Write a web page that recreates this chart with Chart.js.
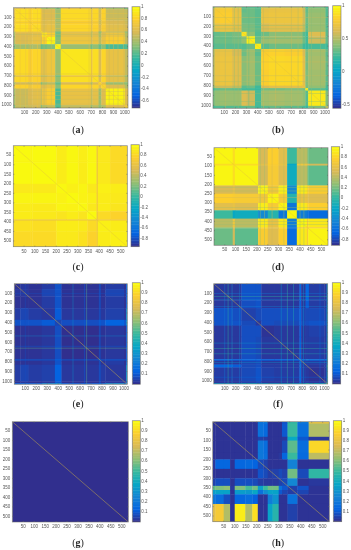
<!DOCTYPE html>
<html>
<head>
<meta charset="utf-8">
<title>Similarity matrices</title>
<script src="https://cdn.jsdelivr.net/npm/chart.js@4"></script>
<style>
  html, body { margin: 0; padding: 0; background: #fff; overflow: hidden; }
  body { position: relative; width: 351px; height: 550px; }
  canvas { position: absolute; }
  .cap { position: absolute; width: 40px; margin-left: -20px; text-align: center; color: #222;
         font: 10px "Liberation Serif", serif; line-height: 12px; }
</style>
</head>
<body>
<script>
// tick labels
const ticks1000 = [100, 200, 300, 400, 500, 600, 700, 800, 900, 1000];
const ticks500 = [50, 100, 150, 200, 250, 300, 350, 400, 450, 500];
const barTicksA = [1, 0.8, 0.6, 0.4, 0.2, 0, -0.2, -0.4, -0.6];
const barTicksB = [1, 0.5, 0, -0.5];
const barTicksC = [1, 0.8, 0.6, 0.4, 0.2, 0, -0.2, -0.4, -0.6, -0.8];
const barTicksE = [1, 0.9, 0.8, 0.7, 0.6, 0.5, 0.4, 0.3, 0.2, 0.1];

// band edges along each matrix axis, values are hundredths, stripes are [index, value]
const edgesA = [0, 15, 130, 170, 245, 255, 300, 375, 425, 695, 710, 765, 790, 830, 1000, 1030];
const valuesA = [
  [50, 58, 58, 60, 45, 40, 42, 30, 62, 45, 60, 40, 58, 40, 30],
  [58, 86, 82, 85, 68, 58, 58, 40, 84, 62, 83, 55, 80, 52, 50],
  [58, 82, 78, 80, 65, 60, 62, 42, 78, 60, 76, 52, 72, 58, 52],
  [60, 85, 80, 84, 66, 62, 66, 44, 82, 62, 80, 56, 76, 62, 55],
  [45, 68, 65, 66, 95, 60, 55, 25, 60, 45, 58, 30, 55, 50, 32],
  [40, 58, 60, 62, 60, 88, 78, 28, 64, 48, 62, 42, 60, 68, 45],
  [42, 58, 62, 66, 55, 78, 96, 32, 70, 55, 68, 48, 66, 76, 50],
  [30, 40, 42, 44, 25, 28, 32, 96, 38, 28, 36, 25, 34, 18, 20],
  [62, 84, 78, 82, 60, 64, 70, 38, 90, 66, 86, 58, 82, 66, 50],
  [45, 62, 60, 62, 45, 48, 55, 28, 66, 60, 62, 42, 60, 50, 38],
  [60, 83, 76, 80, 58, 62, 68, 36, 86, 62, 86, 58, 82, 64, 48],
  [40, 55, 52, 56, 30, 42, 48, 25, 58, 42, 58, 80, 62, 38, 35],
  [58, 80, 72, 76, 55, 60, 66, 34, 82, 60, 82, 62, 82, 60, 45],
  [40, 52, 58, 62, 50, 68, 76, 18, 66, 50, 64, 38, 60, 95, 60],
  [30, 50, 52, 55, 32, 45, 50, 20, 50, 38, 48, 35, 45, 60, 70]
];
const stripesA = [[60, 70], [110, 68], [150, 60], [215, 70], [275, 48], [340, 52], [680, 60], [860, 52], [900, 56], [940, 50], [990, 56]];

const edgesB = [0, 15, 60, 170, 255, 300, 375, 430, 500, 640, 800, 825, 850, 1005, 1030];
const valuesB = [
  [30, 55, 55, 50, 30, 30, 28, 50, 52, 52, 42, 25, 36, 25],
  [55, 76, 78, 68, 32, 34, 30, 68, 70, 70, 56, 32, 42, 28],
  [55, 78, 80, 70, 34, 34, 30, 70, 72, 72, 58, 34, 44, 28],
  [50, 68, 70, 66, 36, 36, 30, 62, 66, 66, 54, 32, 44, 28],
  [30, 32, 34, 36, 90, 42, 28, 34, 40, 40, 30, 25, 64, 30],
  [30, 34, 34, 36, 42, 94, 34, 44, 46, 46, 34, 25, 58, 32],
  [28, 30, 30, 30, 28, 34, 94, 30, 34, 34, 24, 22, 26, 24],
  [50, 68, 70, 62, 34, 44, 30, 80, 82, 80, 62, 36, 46, 30],
  [52, 70, 72, 66, 40, 46, 34, 82, 85, 84, 66, 36, 48, 32],
  [52, 70, 72, 66, 40, 46, 34, 80, 84, 84, 66, 38, 46, 30],
  [42, 56, 58, 54, 30, 34, 24, 62, 66, 66, 70, 36, 42, 26],
  [25, 32, 34, 32, 25, 25, 22, 36, 36, 38, 36, 95, 30, 22],
  [36, 42, 44, 44, 64, 58, 26, 46, 48, 46, 42, 30, 92, 38],
  [25, 28, 28, 28, 30, 32, 24, 30, 32, 30, 26, 22, 38, 50]
];
const stripesB = [[110, 55], [190, 40], [225, 45], [320, 30], [450, 55], [560, 60], [700, 55], [760, 50], [880, 40], [960, 40]];

const edgesC = [0, 78, 88, 200, 248, 302, 344, 387, 393, 450, 530];
const valuesC = [
  [99, 96, 99, 92, 98, 93, 98, 65, 90, 82],
  [96, 97, 96, 91, 96, 92, 96, 65, 89, 82],
  [99, 96, 99, 92, 98, 92, 98, 65, 90, 82],
  [90, 90, 90, 98, 94, 96, 90, 68, 94, 92],
  [96, 95, 96, 95, 99, 95, 94, 68, 92, 90],
  [92, 92, 91, 96, 95, 98, 90, 68, 92, 88],
  [92, 92, 90, 88, 92, 88, 99, 65, 82, 78],
  [62, 64, 62, 66, 66, 66, 62, 62, 68, 68],
  [86, 86, 84, 92, 92, 90, 82, 68, 94, 92],
  [82, 82, 82, 90, 90, 86, 78, 68, 92, 94]
];
const stripesC = [];

const edgesD = [0, 87, 97, 205, 250, 300, 340, 385, 432, 438, 530];
const valuesD = [
  [97, 84, 97, 52, 76, 58, 5, 42, 30, 18],
  [84, 84, 84, 58, 74, 62, -20, 66, 58, 50],
  [97, 84, 97, 50, 72, 56, -15, 42, 28, 14],
  [52, 58, 50, 95, 68, 92, -40, 90, 80, 74],
  [76, 74, 72, 68, 96, 72, -5, 62, 60, 56],
  [58, 62, 56, 92, 72, 96, -55, 90, 80, 76],
  [5, -20, -15, -40, -5, -55, 98, -50, -55, -62],
  [42, 66, 42, 90, 62, 90, -50, 97, 72, 90],
  [30, 58, 28, 80, 60, 80, -55, 72, 72, 72],
  [18, 50, 14, 74, 56, 76, -62, 90, 72, 96]
];
const stripesD = [[215, 30], [235, 35], [270, 50], [325, 35], [400, 35], [418, 30]];

const edgesE = [0, 55, 130, 250, 370, 430, 770, 790, 830, 1000, 1020, 1030];
const valuesE = [
  [2, 3, 2, 4, 9, 2, 5, 2, 4, 2, 14],
  [3, 3, 2, 6, 9, 2, 5, 2, 6, 3, 14],
  [2, 2, 2, 4, 9, 2, 5, 2, 4, 2, 14],
  [4, 6, 4, 3, 11, 3, 5, 3, 5, 3, 30],
  [9, 9, 9, 11, 6, 8, 10, 9, 13, 10, 30],
  [2, 2, 2, 3, 8, 1, 4, 2, 3, 2, 12],
  [5, 5, 5, 5, 10, 4, 6, 5, 6, 5, 16],
  [2, 2, 2, 3, 9, 2, 5, 2, 4, 2, 16],
  [4, 6, 4, 5, 13, 3, 6, 4, 3, 3, 32],
  [2, 3, 2, 3, 10, 2, 5, 2, 3, 2, 16],
  [14, 14, 14, 30, 30, 12, 16, 16, 32, 16, 26]
];
const stripesE = [[100, 8], [535, 30], [660, 55], [780, 15], [640, 12]];

const edgesF = [0, 170, 250, 380, 430, 545, 775, 790, 830, 860, 1000, 1020, 1030];
const valuesF = [
  [3, 3, 9, 9, 3, 3, 14, 3, 14, 4, 3, 30],
  [3, 3, 8, 9, 3, 3, 12, 3, 11, 4, 3, 30],
  [9, 8, 5, 7, 8, 8, 14, 6, 7, 7, 5, 35],
  [9, 9, 7, 3, 8, 7, 14, 7, 8, 9, 7, 30],
  [3, 3, 8, 8, 2, 3, 12, 3, 4, 5, 3, 30],
  [3, 3, 8, 7, 3, 3, 12, 3, 4, 4, 3, 30],
  [14, 12, 14, 14, 12, 12, 18, 14, 20, 16, 12, 40],
  [3, 3, 6, 7, 3, 3, 14, 3, 4, 4, 3, 30],
  [14, 11, 7, 8, 4, 4, 20, 4, 4, 3, 4, 45],
  [4, 4, 7, 9, 5, 4, 16, 4, 3, 2, 3, 35],
  [3, 3, 5, 7, 3, 3, 12, 3, 4, 3, 3, 30],
  [30, 30, 35, 30, 30, 30, 40, 30, 45, 35, 30, 60]
];
const stripesF = [[100, 22], [130, 50], [165, 30], [235, 25], [610, 35], [665, 50], [720, 45], [810, 30], [960, 15]];

const edgesG = [0, 530];
const valuesG = [[1]];
const stripesG = [];

const edgesHx = [0, 12, 50, 79, 100, 148, 180, 205, 230, 250, 272, 300, 315, 340, 385, 436, 530];
const edgesHy = [0, 10, 80, 100, 165, 200, 250, 300, 340, 362, 385, 436, 530];
const valuesH = [
  [2, 2, 2, 2, 2, 2, 2, 18, 20, 2, 2, 2, 9, 48, 20, 80],
  [2, 2, 2, 2, 2, 2, 2, 18, 15, 2, 2, 2, 10, 50, 17, 68],
  [2, 2, 2, 2, 2, 2, 2, 5, 4, 2, 2, 2, 3, 38, 10, 3],
  [2, 2, 2, 2, 2, 2, 2, 20, 16, 2, 2, 2, 7, 55, 16, 90],
  [2, 2, 2, 2, 2, 2, 2, 20, 17, 2, 2, 3, 14, 50, 15, 70],
  [3, 14, 14, 2, 14, 15, 13, 7, 5, 2, 2, 2, 2, 24, 2, 2],
  [2, 2, 2, 2, 2, 2, 2, 9, 7, 4, 5, 7, 5, 58, 7, 48],
  [5, 8, 8, 2, 8, 8, 7, 4, 3, 3, 3, 5, 7, 26, 2, 3],
  [55, 60, 62, 3, 60, 52, 58, 35, 50, 58, 58, 18, 10, 5, 9, 2],
  [34, 36, 36, 2, 34, 32, 38, 18, 28, 36, 36, 10, 6, 4, 6, 2],
  [20, 16, 8, 2, 14, 16, 12, 2, 2, 22, 30, 2, 2, 18, 2, 2],
  [78, 85, 68, 2, 96, 68, 92, 2, 2, 36, 46, 2, 2, 5, 2, 2]
];
const stripesH = [];

// colour stops of the map
const parulaStops = ['#352a87', '#0363e1', '#1485d4', '#06a7c6', '#38b99e', '#92bf73', '#d9ba56', '#fcce2e', '#f9fb0e'];

const panels = [
  { letter: 'a', edgesX: edgesA, edgesY: edgesA, values: valuesA, stripes: stripesA, size: 1030, ticks: ticks1000, barTicks: barTicksA, cmin: -0.72,
    plot: [13.5, 6, 128, 108], bar: [132, 140], cap: [78, 124] },
  { letter: 'b', edgesX: edgesB, edgesY: edgesB, values: valuesB, stripes: stripesB, size: 1030, ticks: ticks1000, barTicks: barTicksB, cmin: -0.55,
    plot: [213, 5.5, 328.3, 108.3], bar: [332.7, 341], cap: [278, 124] },
  { letter: 'c', edgesX: edgesC, edgesY: edgesC, values: valuesC, stripes: stripesC, size: 530, ticks: ticks500, barTicks: barTicksC, cmin: -0.955,
    plot: [13.3, 144.3, 127.3, 246.7], bar: [131, 139.3], cap: [78, 261] },
  { letter: 'd', edgesX: edgesD, edgesY: edgesD, values: valuesD, stripes: stripesD, size: 530, ticks: ticks500, barTicks: barTicksC, cmin: -0.916,
    plot: [214, 146, 328, 245.3], bar: [331.3, 339.7], cap: [278, 261] },
  { letter: 'e', edgesX: edgesE, edgesY: edgesE, values: valuesE, stripes: stripesE, size: 1030, ticks: ticks1000, barTicks: barTicksE, cmin: 0,
    plot: [14.3, 282.7, 127.3, 384.3], bar: [132.3, 140.3], cap: [78, 398] },
  { letter: 'f', edgesX: edgesF, edgesY: edgesF, values: valuesF, stripes: stripesF, size: 1030, ticks: ticks1000, barTicks: barTicksE, cmin: 0,
    plot: [213.7, 282.3, 327.7, 384], bar: [332.3, 340.7], cap: [278, 398] },
  { letter: 'g', edgesX: edgesG, edgesY: edgesG, values: valuesG, stripes: stripesG, size: 530, ticks: ticks500, barTicks: barTicksE, cmin: 0,
    plot: [12.3, 420, 128.3, 522], bar: [132.3, 140.3], cap: [78, 537] },
  { letter: 'h', edgesX: edgesHx, edgesY: edgesHy, values: valuesH, stripes: stripesH, size: 530, ticks: ticks500, barTicks: barTicksE, cmin: 0,
    plot: [212.7, 420.3, 329.3, 521.7], bar: [333.3, 341.7], cap: [278, 537] }
];

const tickFont = { family: '"Liberation Sans", Arial, sans-serif', size: 4.5 };
const tickColor = '#555';
const frameColor = 'rgba(105,105,100,0.8)';

function hexToRgb(h) {
  return [parseInt(h.slice(1, 3), 16), parseInt(h.slice(3, 5), 16), parseInt(h.slice(5, 7), 16)];
}
const parulaRgb = parulaStops.map(hexToRgb);

function parula(t) {
  t = Math.min(1, Math.max(0, t));
  const p = t * (parulaRgb.length - 1);
  const i = Math.min(parulaRgb.length - 2, Math.floor(p));
  const f = p - i;
  const c = parulaRgb[i].map((v, k) => Math.round(v + (parulaRgb[i + 1][k] - v) * f));
  return 'rgb(' + c.join(',') + ')';
}

function buildCells(p) {
  const cells = [];
  p.values.forEach((row, j) => {
    row.forEach((val, i) => {
      cells.push({
        x: p.edgesX[i], y: p.edgesY[j],
        x0: p.edgesX[i], x1: p.edgesX[i + 1], y0: p.edgesY[j], y1: p.edgesY[j + 1], v: val / 100
      });
    });
  });
  // thin lines run across the whole matrix, in both directions
  const w = p.size * 0.0035;
  p.stripes.forEach(s => {
    cells.push({ x: s[0], y: 0, x0: s[0] - w, x1: s[0] + w, y0: 0, y1: p.size, v: s[1] / 100, alpha: 0.5 });
    cells.push({ x: 0, y: s[0], x0: 0, x1: p.size, y0: s[0] - w, y1: s[0] + w, v: s[1] / 100, alpha: 0.5 });
  });
  return cells;
}

function buildBarCells(cmin) {
  const cells = [];
  for (let i = 0; i < 64; i++) {
    const y0 = cmin + (1 - cmin) * i / 64;
    const y1 = cmin + (1 - cmin) * (i + 1) / 64;
    cells.push({ x: 0, y: y0, x0: 0, x1: 1, y0: y0, y1: y1, v: (y0 + y1) / 2 });
  }
  return cells;
}

// draws the rectangles of the first dataset, plus the frame and the inward ticks
const cellPlugin = {
  id: 'cellPlugin',
  beforeDatasetsDraw(chart, args, opts) {
    const { ctx, chartArea: a, scales: { x, y } } = chart;
    ctx.save();
    ctx.beginPath();
    ctx.rect(a.left, a.top, a.right - a.left, a.bottom - a.top);
    ctx.clip();
    chart.data.datasets[0].data.forEach(c => {
      const px0 = x.getPixelForValue(c.x0), px1 = x.getPixelForValue(c.x1);
      const py0 = y.getPixelForValue(c.y0), py1 = y.getPixelForValue(c.y1);
      const lap = c.alpha ? 0 : 0.4;
      ctx.globalAlpha = c.alpha || 1;
      ctx.fillStyle = parula((c.v - opts.cmin) / (1 - opts.cmin));
      ctx.fillRect(Math.min(px0, px1), Math.min(py0, py1), Math.abs(px1 - px0) + lap, Math.abs(py1 - py0) + lap);
    });
    ctx.restore();
  },
  afterDatasetsDraw(chart, args, opts) {
    const { ctx, chartArea: a, scales: { x, y } } = chart;
    ctx.save();
    ctx.strokeStyle = frameColor;
    ctx.lineWidth = 0.7;
    ctx.strokeRect(a.left, a.top, a.right - a.left, a.bottom - a.top);
    if (opts.inward) {
      ctx.beginPath();
      x.ticks.forEach(t => {
        const px = x.getPixelForValue(t.value);
        ctx.moveTo(px, a.bottom); ctx.lineTo(px, a.bottom - 1);
        ctx.moveTo(px, a.top); ctx.lineTo(px, a.top + 1);
      });
      y.ticks.forEach(t => {
        const py = y.getPixelForValue(t.value);
        ctx.moveTo(a.left, py); ctx.lineTo(a.left + 1, py);
        ctx.moveTo(a.right, py); ctx.lineTo(a.right - 1, py);
      });
      ctx.stroke();
    }
    ctx.restore();
  }
};

function addCanvas(left, top, w, h) {
  const c = document.createElement('canvas');
  c.width = w; c.height = h;
  c.style.left = left + 'px'; c.style.top = top + 'px';
  c.style.width = w + 'px'; c.style.height = h + 'px';
  document.body.appendChild(c);
  return c;
}

function drawHeat(p) {
  const [l, t, r, b] = p.plot;
  const left = Math.floor(l) - 14, top = Math.floor(t) - 3;
  const w = Math.ceil(r) + 4 - left, h = Math.ceil(b) + 9 - top;
  new Chart(addCanvas(left, top, w, h), {
    type: 'scatter',
    data: {
      datasets: [
        { data: buildCells(p), pointRadius: 0, showLine: false },
        // main diagonal, self similarity
        { data: [{ x: 0, y: 0 }, { x: p.size, y: p.size }], pointRadius: 0, showLine: true, borderWidth: 0.7, borderColor: 'rgba(225,195,60,0.6)' }
      ]
    },
    options: {
      responsive: false,
      animation: false,
      devicePixelRatio: 1,
      events: [],
      layout: { padding: { left: l - left - 14, top: t - top, right: w - (r - left), bottom: h - (b - top) - 8 } },
      plugins: { legend: { display: false }, tooltip: { enabled: false }, cellPlugin: { cmin: p.cmin, inward: true } },
      scales: {
        x: {
          type: 'linear', min: 0, max: p.size,
          grid: { display: false, drawTicks: false }, border: { display: false },
          afterBuildTicks: ax => { ax.ticks = p.ticks.map(v => ({ value: v })); },
          afterFit: ax => { ax.height = 8; },
          ticks: { font: tickFont, color: tickColor, padding: 2, maxRotation: 0, autoSkip: false, callback: v => String(v) }
        },
        y: {
          type: 'linear', min: 0, max: p.size, reverse: true,
          grid: { display: false, drawTicks: false }, border: { display: false },
          afterBuildTicks: ax => { ax.ticks = p.ticks.map(v => ({ value: v })); },
          afterFit: ax => { ax.width = 14; },
          ticks: { font: tickFont, color: tickColor, padding: 2, autoSkip: false, callback: v => String(v) }
        }
      }
    },
    plugins: [cellPlugin]
  });
}

function drawBar(p) {
  const [, t, , b] = p.plot;
  const [l, r] = p.bar;
  const left = Math.floor(l) - 1, top = Math.floor(t) - 3;
  const w = Math.ceil(r) + 10 - left, h = Math.ceil(b) + 4 - top;
  new Chart(addCanvas(left, top, w, h), {
    type: 'scatter',
    data: { datasets: [{ data: buildBarCells(p.cmin), pointRadius: 0, showLine: false }] },
    options: {
      responsive: false,
      animation: false,
      devicePixelRatio: 1,
      events: [],
      layout: { padding: { left: l - left, top: t - top, right: w - (r - left) - 9, bottom: h - (b - top) } },
      plugins: { legend: { display: false }, tooltip: { enabled: false }, cellPlugin: { cmin: p.cmin, inward: false } },
      scales: {
        x: { type: 'linear', display: false, min: 0, max: 1 },
        y: {
          type: 'linear', position: 'right', min: p.cmin, max: 1,
          grid: { display: false, drawTicks: false }, border: { display: false },
          afterBuildTicks: ax => { ax.ticks = p.barTicks.map(v => ({ value: v })); },
          afterFit: ax => { ax.width = 9; },
          ticks: { font: tickFont, color: tickColor, padding: 1, autoSkip: false, callback: v => String(v) }
        }
      }
    },
    plugins: [cellPlugin]
  });
}

function addCaption(p) {
  const d = document.createElement('div');
  d.className = 'cap';
  d.style.left = p.cap[0] + 'px';
  d.style.top = p.cap[1] + 'px';
  d.innerHTML = '(<b>' + p.letter + '</b>)';
  document.body.appendChild(d);
}

panels.forEach(p => {
  drawHeat(p);
  drawBar(p);
  addCaption(p);
});
</script>
</body>
</html>
